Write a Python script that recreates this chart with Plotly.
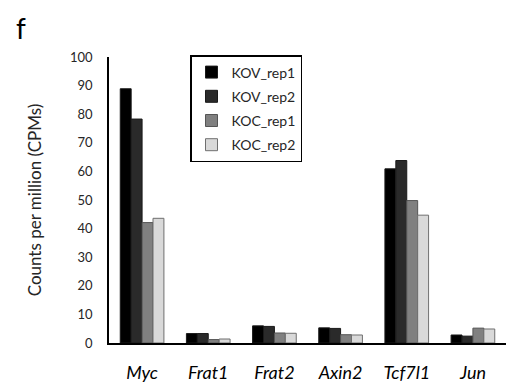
import plotly.graph_objects as go

genes = ["Myc", "Frat1", "Frat2", "Axin2", "Tcf7l1", "Jun"]
kov_rep1 = [88.9, 3.3, 6.0, 5.3, 60.9, 2.8]
kov_rep2 = [78.3, 3.3, 5.8, 5.1, 63.8, 2.4]
koc_rep1 = [42.1, 1.2, 3.5, 2.9, 49.8, 5.2]
koc_rep2 = [43.6, 1.4, 3.4, 2.8, 44.7, 4.9]
series_names = ["KOV_rep1", "KOV_rep2", "KOC_rep1", "KOC_rep2"]
colors = ["#000000", "#2a2a2a", "#808080", "#d9d9d9"]
line_colors = ["#1a1a1a", "#1a1a1a", "#555555", "#6f6f6f"]

tick_labels = ["<i>%s</i>" % g for g in genes]

W, H = 506, 383
L, R, T, B = 109, 0, 57, 40
pw, ph = W - L - R, H - T - B

fig = go.Figure()
for i, (name, vals) in enumerate(zip(series_names, [kov_rep1, kov_rep2, koc_rep1, koc_rep2])):
    fig.add_trace(go.Bar(
        x=genes, y=vals, name=name, legendgroup=name,
        marker=dict(color=colors[i], line=dict(color=line_colors[i], width=1)),
    ))

fig.update_layout(
    width=W, height=H,
    margin=dict(l=L, r=R, t=T, b=B, autoexpand=False),
    plot_bgcolor="white", paper_bgcolor="white",
    barmode="group", bargap=0.34, bargroupgap=0,
    font=dict(family="Lato, 'Open Sans', sans-serif", color="#262626"),
    showlegend=True,
    legend=dict(
        x=(190 - L) / pw, y=1 + 2 / ph,
        xanchor="left", yanchor="top",
        bordercolor="#000000", borderwidth=1.5, bgcolor="white",
        font=dict(size=14, color="#262626"),
        tracegroupgap=3, itemwidth=30,
    ),
    annotations=[dict(text="f", x=(14 - L) / pw, y=1 + (T - 28) / ph,
                      xref="paper", yref="paper",
                      xanchor="left", yanchor="middle", showarrow=False,
                      font=dict(size=28, color="#000000"))],
)
fig.update_xaxes(
    tickmode="array", tickvals=genes, ticktext=tick_labels,
    showline=True, linecolor="#000000", linewidth=2,
    ticks="", ticklabelstandoff=12,
    tickfont=dict(size=18, color="#000000"),
)
fig.update_yaxes(
    range=[0, 100], dtick=10, showgrid=False, zeroline=False,
    showline=True, linecolor="#000000", linewidth=1.5,
    ticks="", ticklabelstandoff=12,
    tickfont=dict(size=13, color="#262626"),
    title=dict(text="Counts per million (CPMs)", font=dict(size=17, color="#262626"), standoff=24),
)
fig.write_html("out.html", config={"displayModeBar": False},
               post_script="document.body.style.margin='0';")
